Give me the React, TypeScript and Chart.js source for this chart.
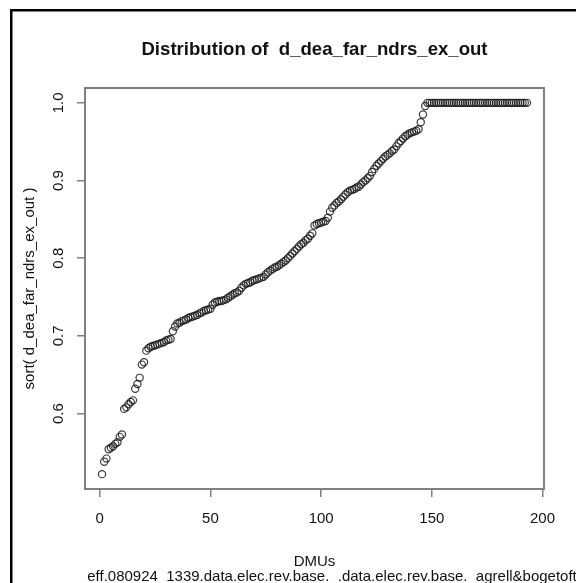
import React, { useEffect, useRef } from "react";
import { Chart, registerables } from "chart.js";

Chart.register(...registerables);

const TITLE = "Distribution of  d_dea_far_ndrs_ex_out";
const Y_LABEL = "sort( d_dea_far_ndrs_ex_out )";
const X_LABEL = "DMUs";
const SUBTITLE = "eff.080924_1339.data.elec.rev.base._.data.elec.rev.base._agrell&bogetoft";

const X_TICKS = [0, 50, 100, 150, 200];
const Y_TICKS = [0.6, 0.7, 0.8, 0.9, 1.0];

// sorted efficiency scores, DMU 1..147 below 1
const SCORES_LOW = [
  0.522, 0.538, 0.542, 0.554, 0.556, 0.558, 0.561, 0.563, 0.570, 0.573,
  0.606, 0.608, 0.612, 0.615, 0.617, 0.632, 0.638, 0.646, 0.663, 0.666,
  0.681, 0.684, 0.686, 0.687, 0.688, 0.689, 0.690, 0.691, 0.692, 0.694,
  0.695, 0.696, 0.706, 0.712, 0.716, 0.717, 0.719, 0.720, 0.721, 0.723,
  0.724, 0.725, 0.726, 0.727, 0.729, 0.730, 0.732, 0.733, 0.734, 0.735,
  0.740, 0.743, 0.744, 0.745, 0.745, 0.746, 0.747, 0.749, 0.751, 0.753,
  0.755, 0.756, 0.758, 0.762, 0.765, 0.767, 0.768, 0.769, 0.771, 0.772,
  0.773, 0.774, 0.775, 0.776, 0.779, 0.782, 0.784, 0.786, 0.788, 0.789,
  0.791, 0.793, 0.795, 0.797, 0.800, 0.803, 0.806, 0.809, 0.812, 0.815,
  0.818, 0.820, 0.823, 0.825, 0.829, 0.832, 0.842, 0.844, 0.845, 0.846,
  0.847, 0.848, 0.852, 0.860, 0.865, 0.868, 0.871, 0.873, 0.876, 0.879,
  0.882, 0.885, 0.887, 0.888, 0.889, 0.891, 0.892, 0.895, 0.898, 0.900,
  0.903, 0.906, 0.911, 0.915, 0.919, 0.922, 0.925, 0.928, 0.931, 0.933,
  0.935, 0.938, 0.940, 0.944, 0.948, 0.951, 0.954, 0.957, 0.959, 0.961,
  0.962, 0.963, 0.964, 0.966, 0.975, 0.985, 0.996,
];
// efficient DMUs (score 1.0), DMU 148..193
const SCORES_EFFICIENT = [
  1, 1, 1, 1, 1, 1, 1, 1, 1, 1,
  1, 1, 1, 1, 1, 1, 1, 1, 1, 1,
  1, 1, 1, 1, 1, 1, 1, 1, 1, 1,
  1, 1, 1, 1, 1, 1, 1, 1, 1, 1,
  1, 1, 1, 1, 1, 1,
];
const SCORES = [...SCORES_LOW, ...SCORES_EFFICIENT];

const FONT = '"Liberation Sans", Arial, Helvetica, sans-serif';

export default function App() {
  const ref = useRef<HTMLCanvasElement>(null);

  useEffect(() => {
    const n = SCORES.length;
    const ymin = Math.min(...SCORES);
    const ymax = Math.max(...SCORES);
    const xpad = (n - 1) * 0.04;
    const ypad = (ymax - ymin) * 0.04;

    const rPlugin = {
      id: "rframe",
      beforeDraw(chart: any) {
        const ctx = chart.ctx;
        ctx.save();
        ctx.fillStyle = "#ffffff";
        ctx.fillRect(0, 0, chart.width, chart.height);
        ctx.fillStyle = "#000000";
        ctx.fillRect(10, 9, chart.width, 2.5);
        ctx.fillRect(10, 9, 2.5, chart.height);
        ctx.restore();
      },
      afterDraw(chart: any) {
        const ctx = chart.ctx;
        const a = chart.chartArea;
        const cx = (a.left + a.right) / 2;
        const cy = (a.top + a.bottom) / 2;
        ctx.save();
        ctx.strokeStyle = "#808080";
        ctx.lineWidth = 2;
        ctx.strokeRect(a.left, a.top, a.right - a.left, a.bottom - a.top);
        ctx.fillStyle = "#111111";
        ctx.textAlign = "center";
        ctx.textBaseline = "alphabetic";
        ctx.font = `bold 18.6px ${FONT}`;
        ctx.fillText(TITLE, cx, 55);
        ctx.font = `15px ${FONT}`;
        ctx.fillText(X_LABEL, cx, 566);
        ctx.fillText(SUBTITLE, 332, 581);
        ctx.translate(34, cy);
        ctx.rotate(-Math.PI / 2);
        ctx.fillText(Y_LABEL, 0, 0);
        ctx.restore();
      },
    };

    const chart = new Chart(ref.current!, {
      type: "scatter",
      data: {
        datasets: [
          {
            data: SCORES.map((v, i) => ({ x: i + 1, y: v })),
            pointStyle: "circle",
            pointRadius: 3.6,
            pointHoverRadius: 3.6,
            pointBorderWidth: 1.2,
            pointBorderColor: "rgba(25,25,25,0.85)",
            pointBackgroundColor: "rgba(0,0,0,0)",
          },
        ],
      },
      options: {
        animation: false,
        responsive: false,
        events: [],
        layout: { padding: { left: 0, top: 88, right: 32, bottom: 0 } },
        plugins: { legend: { display: false }, tooltip: { enabled: false }, title: { display: false } },
        scales: {
          x: {
            type: "linear",
            min: 1 - xpad,
            max: n + xpad,
            afterBuildTicks: (s: any) => {
              s.ticks = X_TICKS.map((v) => ({ value: v }));
            },
            afterFit: (s: any) => {
              s.height = 94;
            },
            border: { display: false },
            grid: { drawOnChartArea: false, drawTicks: true, tickLength: 8, color: "#808080", lineWidth: 1.5 },
            ticks: {
              padding: 13,
              autoSkip: false,
              maxRotation: 0,
              color: "#111111",
              font: { family: FONT, size: 15 },
              callback: (v: any) => String(v),
            },
          },
          y: {
            type: "linear",
            min: ymin - ypad,
            max: ymax + ypad,
            afterBuildTicks: (s: any) => {
              s.ticks = Y_TICKS.map((v) => ({ value: v }));
            },
            afterFit: (s: any) => {
              s.width = 85;
            },
            border: { display: false },
            grid: { drawOnChartArea: false, drawTicks: true, tickLength: 8, color: "#808080", lineWidth: 1.5 },
            ticks: {
              padding: 8,
              autoSkip: false,
              minRotation: 90,
              maxRotation: 90,
              crossAlign: "center",
              color: "#111111",
              font: { family: FONT, size: 15 },
              callback: (v: any) => Number(v).toFixed(1),
            },
          },
        },
      },
      plugins: [rPlugin],
    });
    return () => chart.destroy();
  }, []);

  return (
    <div style={{ position: "absolute", left: 0, top: 0, width: 576, height: 583, overflow: "hidden", background: "#fff" }}>
      <canvas ref={ref} width={576} height={583} style={{ display: "block", width: 576, height: 583 }} />
    </div>
  );
}
